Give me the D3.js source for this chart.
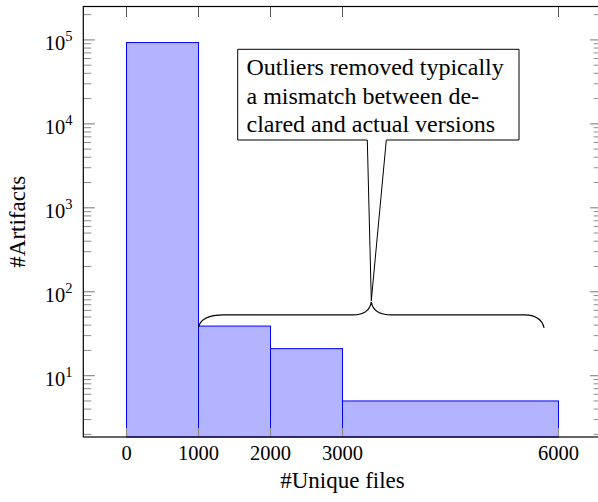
<!DOCTYPE html>
<html>
<head>
<meta charset="utf-8">
<script src="https://cdnjs.cloudflare.com/ajax/libs/d3/7.8.5/d3.min.js"></script>
<style>
  body { margin: 0; background: white; }
  text { font-family: "Liberation Serif", "DejaVu Serif", serif; fill: #000; }
</style>
</head>
<body>
<div id="chart"></div>
<script>
// histogram bins (#unique files) and counts (#artifacts)
var binStarts = [0, 1000, 2000, 3000];
var binEnds   = [1000, 2000, 3000, 6000];
var counts    = [93000, 39, 21, 5];
var xTicks    = [0, 1000, 2000, 3000, 6000];
var yDecades  = [1, 2, 3, 4, 5];
var noteLines = ["Outliers removed typically", "a mismatch between de-", "clared and actual versions"];
// brace over the outlier bins
var braceFrom = 1000, braceTo = 5800, braceTip = 3400;

var W = 598, H = 502;
var m = {left: 83.3, top: 6.5, right: 601.7, bottom: 437};

var svg = d3.select("#chart").append("svg")
    .attr("width", W).attr("height", H);

var x = d3.scaleLinear().domain([-600, 6600]).range([m.left, m.right]);
var y = d3.scaleLog().domain([1.86, 2.5e5]).range([m.bottom, m.top]);

var g = svg.append("g");

// bars
var bins = binStarts.map(function(s, i){ return {a: s, b: binEnds[i], v: counts[i]}; });
g.selectAll("rect.bar").data(bins).enter().append("rect")
    .attr("class", "bar")
    .attr("x", function(d){ return x(d.a); })
    .attr("width", function(d){ return x(d.b) - x(d.a); })
    .attr("y", function(d){ return y(d.v); })
    .attr("height", function(d){ return m.bottom - y(d.v); })
    .style("fill", "#b3b3ff")
    .style("stroke", "#0000ff")
    .style("stroke-width", 1);

// minor + major y ticks (left & right, inward)
var yMinor = [];
yDecades.concat([0]).forEach(function(e){
    for (var k = 2; k <= 9; k++) {
        var v = k * Math.pow(10, e);
        if (v >= y.domain()[0] && v <= y.domain()[1]) yMinor.push(v);
    }
});
var tickCol = "#8c8c8c";
[m.left, m.right].forEach(function(px, side){
    var dir = side === 0 ? 1 : -1;
    g.selectAll(null).data(yMinor).enter().append("line")
        .attr("x1", px).attr("x2", px + dir * 8)
        .attr("y1", function(d){ return y(d); }).attr("y2", function(d){ return y(d); })
        .style("stroke", tickCol).style("stroke-width", 1);
    g.selectAll(null).data(yDecades).enter().append("line")
        .attr("x1", px).attr("x2", px + dir * 11.5)
        .attr("y1", function(d){ return y(Math.pow(10, d)); }).attr("y2", function(d){ return y(Math.pow(10, d)); })
        .style("stroke", tickCol).style("stroke-width", 1.2);
});

// x ticks bottom (gray) and top (dark)
g.selectAll(null).data(xTicks).enter().append("line")
    .attr("x1", function(d){ return x(d); }).attr("x2", function(d){ return x(d); })
    .attr("y1", m.bottom).attr("y2", m.bottom - 9)
    .style("stroke", tickCol).style("stroke-width", 1.2);
g.selectAll(null).data(xTicks).enter().append("line")
    .attr("x1", function(d){ return x(d); }).attr("x2", function(d){ return x(d); })
    .attr("y1", m.top).attr("y2", m.top + 10.5)
    .style("stroke", "#555").style("stroke-width", 1);

// frame
g.append("rect")
    .attr("x", m.left).attr("y", m.top)
    .attr("width", m.right - m.left).attr("height", m.bottom - m.top)
    .style("fill", "none").style("stroke", "#000").style("stroke-width", 1.2);

// tick labels
g.selectAll(null).data(xTicks).enter().append("text")
    .attr("x", function(d){ return x(d); })
    .attr("y", 460)
    .attr("text-anchor", "middle")
    .style("font-size", "20.5px")
    .text(function(d){ return d; });

var yl = g.selectAll(null).data(yDecades).enter().append("text")
    .attr("x", 72.5)
    .attr("y", function(d){ return y(Math.pow(10, d)) + 10; })
    .attr("text-anchor", "end")
    .style("font-size", "20.5px");
yl.append("tspan").text("10");
yl.append("tspan").attr("dy", -9).style("font-size", "14.5px").text(function(d){ return d; });

// axis titles
svg.append("text")
    .attr("x", (m.left + m.right) / 2).attr("y", 488)
    .attr("text-anchor", "middle")
    .style("font-size", "23px")
    .text("#Unique files");
svg.append("text")
    .attr("transform", "translate(25," + ((m.top + m.bottom) / 2) + ") rotate(-90)")
    .attr("text-anchor", "middle")
    .style("font-size", "23px")
    .text("#Artifacts");

// brace
var bx0 = x(braceFrom), bx1 = x(braceTo), bt = x(braceTip);
var by = y(53), byTip = y(76), byEnd0 = y(38), byEnd1 = y(37);
var bp = d3.path();
bp.moveTo(bx0, byEnd0);
bp.quadraticCurveTo(bx0 + 3, by, bx0 + 25, by);
bp.lineTo(bt - 18, by);
bp.quadraticCurveTo(bt - 2, by, bt, byTip);
bp.quadraticCurveTo(bt + 2, by, bt + 20, by);
bp.lineTo(bx1 - 20, by);
bp.quadraticCurveTo(bx1 - 3, by, bx1, byEnd1);
g.append("path").attr("d", bp.toString())
    .style("fill", "none").style("stroke", "#000").style("stroke-width", 1.2);

// callout box
var box = {x0: 237.7, x1: 519, y0: 49.3, y1: 140};
g.append("path")
    .attr("d", "M" + box.x0 + "," + box.y0 + "H" + box.x1 + "V" + box.y1 +
        "H" + (bt + 15) + "L" + bt + "," + (byTip - 1) + "L" + (bt - 4) + "," + box.y1 +
        "H" + box.x0 + "Z")
    .style("fill", "#fff").style("stroke", "#000").style("stroke-width", 1);

g.selectAll(null).data(noteLines).enter().append("text")
    .attr("x", 246.5)
    .attr("y", function(d, i){ return 75 + i * 28.5; })
    .style("font-size", "24px")
    .text(function(d){ return d; });
</script>
</body>
</html>
